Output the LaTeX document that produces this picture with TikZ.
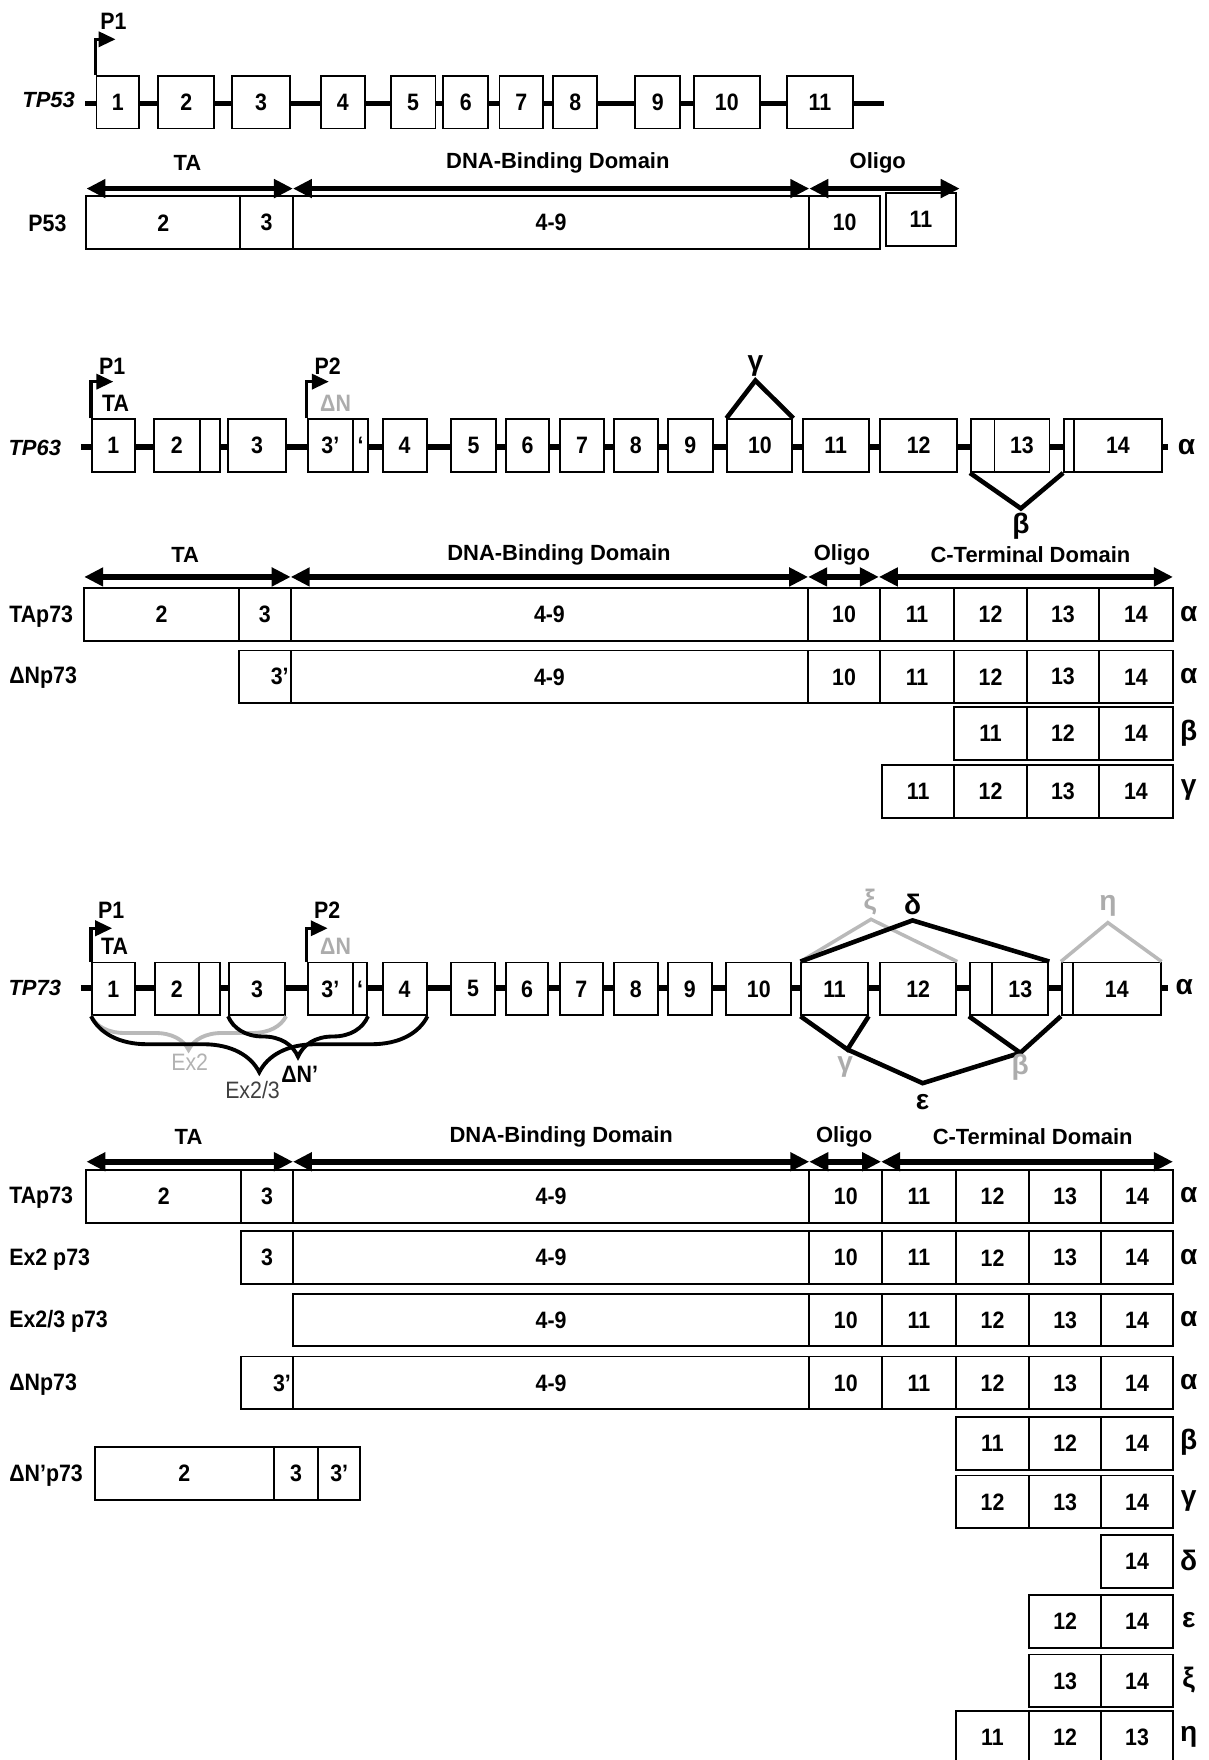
\documentclass[tikz,border=0pt]{standalone}
\usepackage{fontspec}
\setmainfont{Liberation Sans}
\newfontfamily\narrowsf{Liberation Sans}[FakeStretch=0.9]
\usetikzlibrary{arrows.meta,decorations.pathreplacing}
\newdimen\ux \ux=0.02245cm
% one row of boxes: y centre, list of name/x-left/x-right/text
\newcommand{\segrow}[2]{%
  \foreach \nm/\xa/\xb/\txt in {#2}
    \node[seg, minimum width=(\xb-\xa)*\ux] (\nm) at ({(\xa+\xb)/2},#1) {\txt};}

\begin{document}
\begin{tikzpicture}[x=0.02245cm, y=-0.02245cm,
    every node/.style={font=\narrowsf\bfseries\fontsize{13.5}{16}\selectfont, inner sep=0pt},
    seg/.style={draw, line width=1.1pt, fill=white, minimum height=47*\ux},
    gene/.style={line width=3.2pt},
    gname/.style={font=\bfseries\itshape\fontsize{12.5}{15}\selectfont},
    domlab/.style={font=\bfseries\fontsize{12.5}{15}\selectfont},
    iso/.style={font=\bfseries\fontsize{16}{18}\selectfont},
    dom/.style={{Triangle[length=0.38cm,width=0.36cm]}-{Triangle[length=0.38cm,width=0.36cm]}, line width=3.2pt},
    prom/.style={-{Triangle[length=0.34cm,width=0.3cm]}, line width=2pt},
    splice/.style={line width=2.6pt},
    ghost/.style={draw=gray!55, line width=2pt},
    brc/.style={decorate, line width=2.2pt},
    rowlab/.style={anchor=west},
    faded/.style={text=gray!65}
]
\useasboundingbox (0,0) rectangle (1077,1568);

% ---------------- TP53 ----------------
\coordinate (g53s) at (76,92);
\coordinate (g53e) at (788,92);
\draw[gene, line width=2.6pt] (g53s) -- (g53e);
\segrow{91}{s1/86/124/1, s2/141/191/2, s3/207/258/3, s4/286/325/4, s5/348/388/5, s6/395/435/6, s7/445/484/7, s8/493/532/8, s9/566/606/9, s10/618/677/10, s11/701/760/11}
\node[gname, anchor=east] (t53) at (67,89) {TP53};
\coordinate (p53) at (103,35);
\draw[prom] (s1.north west) |- (p53);
\node (p53l) at (101,19) {P1};

% P53 protein
\segrow{198.5}{q1/77/214/2, q2/214/261/3, q3/261/721/4-9, q4/721/784/10}
\node[seg, minimum width=63*\ux] (q5) at (820.5,195.5) {11};
\node[rowlab] (r53) at (25,199) {P53};
\coordinate (d0) at (77,168);
\coordinate (d1) at (261,168);
\coordinate (d2) at (721,168);
\coordinate (d3) at (855,168);
\draw[dom] (d0) -- (d1);
\draw[dom] (d1) -- (d2);
\draw[dom] (d2) -- (d3);
\node[domlab] (ta53) at (167,145) {TA};
\node[domlab] (db53) at (497,145) {DNA-Binding Domain};
\node[domlab] (ol53) at (782,145) {Oligo};

% ---------------- TP63 ----------------
\coordinate (g63s) at (72,398);
\coordinate (g63e) at (1041,398);
\draw[gene] (g63s) -- (g63e);
\segrow{397}{b1/82/120/1, b2/137/178/2, b2s/178/196/{}, b3/203/255/3, b3p/274/314.5/3’, b3s/314.5/328/‘, b4/341/380/4, b5/402/442/5, b6/451/489/6, b7/499/538/7, b8/547/586/8, b9/595/635/9, b10/648/706/10, b11/715/774/11, b12/784/853/12, b13s/865/886/{}, b13/886/935/13, b14s/948/957/{}, b14/957/1035/14}
\node[gname] (t63) at (31,399) {TP63};
\node[iso] (al63) at (1057,398) {α};
% promoters
\coordinate (p63a) at (101,340);
\coordinate (p63b) at (293,340);
\draw[prom] (b1.north west) |- (p63a);
\draw[prom] (b3p.north west) |- (p63b);
\node (p1b) at (100,326) {P1};
\node (tab) at (103,359) {TA};
\node (p2b) at (292,326) {P2};
\node[faded] (dnb) at (299,359) {ΔN};
% splicing
\coordinate (gam63) at (673,339);
\coordinate (bet63) at (909.5,453);
\draw[splice] (b10.north west) -- (gam63) -- (b10.north east);
\draw[splice] (b13s.south west) -- (bet63) -- (b14s.south west);
\node[iso] (gl63) at (673,326) {γ};
\node[iso] (bl63) at (909.5,469) {β};

% p63 proteins
\segrow{547.5}{u1/75/213/2, u2/213/259/3, u3/259/720/4-9, u4/720/784/10, u5/784/850/11, u6/850/915/12, u7/915/979/13, u8/979/1045/14}
\segrow{603}{v1/213/259/{\makebox[0.95cm][r]{3’}}, v2/259/720/4-9, v3/720/784/10, v4/784/850/11, v5/850/915/12, v6/915/979/13, v7/979/1045/14}
\segrow{653.5}{w1/850/915/11, w2/915/979/12, w3/979/1045/14}
\segrow{705}{x1/786/850/11, x2/850/915/12, x3/915/979/13, x4/979/1045/14}
\node[rowlab] (l63a) at (8,549) {TAp73};
\node[rowlab] (l63b) at (8,604) {ΔNp73};
\foreach \yy/\gr [count=\k] in {547/α, 602/α, 653/β, 704/γ}
  \node[iso] (gk\k) at (1059,\yy) {\gr};
\coordinate (h0) at (75,514);
\coordinate (h1) at (259,514);
\coordinate (h2) at (720,514);
\coordinate (h3) at (783,514);
\coordinate (h4) at (1045,514);
\draw[dom] (h0) -- (h1);
\draw[dom] (h1) -- (h2);
\draw[dom] (h2) -- (h3);
\draw[dom] (h3) -- (h4);
\node[domlab] (ta63) at (165,494) {TA};
\node[domlab] (db63) at (498,494) {DNA-Binding Domain};
\node[domlab] (ol63) at (750,494) {Oligo};
\node[domlab] (ct63) at (918,494) {C-Terminal Domain};

% ---------------- TP73 ----------------
\coordinate (g73s) at (72,880);
\coordinate (g73e) at (1041,880);
\draw[gene] (g73s) -- (g73e);
\segrow{881}{c1/82/120/1, c2/138/177/2, c2s/177/196/{}, c3/204/254/3, c3p/274/314.5/3’, c3s/314.5/327/‘, c4/341/380/4, c5/402/441/5, c6/451/488/6, c7/499/537/7, c8/547/586/8, c9/595/634/9, c10/647/705/10, c11/714/773/11, c12/784/852/12, c13s/864/884/{}, c13/884/934/13, c14s/946/956/{}, c14/956/1034/14}
\node[gname] (t73) at (31,880) {TP73};
\node[iso] (al73) at (1055,879) {α};
% promoters
\coordinate (p73a) at (100,827);
\coordinate (p73b) at (292,827);
\draw[prom] (c1.north west) |- (p73a);
\draw[prom] (c3p.north west) |- (p73b);
\node (p1c) at (99,811) {P1};
\node (tac) at (102,843) {TA};
\node (p2c) at (291.5,811) {P2};
\node[faded] (dnc) at (299,843) {ΔN};
% deletions below the gene
\draw[brc, draw=gray!55, decoration={brace, mirror, amplitude=0.67cm}] (c1.south west) -- (c3.south east);
\draw[brc, decoration={brace, mirror, amplitude=1.12cm}] (c1.south west) -- (c4.south east);
\draw[brc, decoration={brace, mirror, amplitude=0.81cm}] (c3.south west) -- (c3s.south east);
\node[font=\narrowsf\mdseries\fontsize{13.5}{16}\selectfont, text=gray!60] (lex2) at (169,946) {Ex2};
\node[font=\narrowsf\mdseries\fontsize{13.5}{16}\selectfont, text=black!75] (lex23) at (225,971) {Ex2/3};
\node (ldn) at (267,957) {ΔN’};
% splicing
\coordinate (xi73) at (776,819);
\coordinate (del73) at (813,820);
\coordinate (eta73) at (987,822);
\coordinate (gam73) at (755,935);
\coordinate (eps73) at (822,965);
\coordinate (bet73) at (909,938);
\draw[ghost] (c11.north west) -- (xi73) -- (c12.north east);
\draw[ghost] (c14s.north west) -- (eta73) -- (c14.north east);
\draw[splice] (c11.north west) -- (del73) -- (c13.north east);
\draw[splice] (c11.south west) -- (gam73) -- (c11.south east);
\draw[splice] (gam73) -- (eps73) -- (bet73);
\draw[splice] (c13s.south west) -- (bet73) -- (c14s.south west);
\node[iso, faded] (xil) at (775,804) {ξ};
\node[iso] (dell) at (813,806) {δ};
\node[iso, faded] (etal) at (987,807) {η};
\node[iso, faded] (gaml) at (753,951) {γ};
\node[iso] (epsl) at (822,982) {ε};
\node[iso, faded] (betl) at (909,951) {β};

% p73 proteins
\segrow{1066}{m1/77/215/2, m2/215/261/3, m3/261/721/4-9, m4/721/786/10, m5/786/851.5/11, m6/851.5/917/12, m7/917/981/13, m8/981/1045/14}
\segrow{1120.5}{n1/215/261/3, n2/261/721/4-9, n3/721/786/10, n4/786/851.5/11, n5/851.5/917/12, n6/917/981/13, n7/981/1045/14}
\segrow{1176}{o1/261/721/4-9, o2/721/786/10, o3/786/851.5/11, o4/851.5/917/12, o5/917/981/13, o6/981/1045/14}
\segrow{1232}{r1/215/261/{\makebox[0.95cm][r]{3’}}, r2/261/721/4-9, r3/721/786/10, r4/786/851.5/11, r5/851.5/917/12, r6/917/981/13, r7/981/1045/14}
\segrow{1286}{be1/851.5/917/11, be2/917/981/12, be3/981/1045/14}
\segrow{1338}{ga1/851.5/917/12, ga2/917/981/13, ga3/981/1045/14}
\segrow{1391}{de1/981/1045/14}
\segrow{1444.5}{ep1/917/981/12, ep2/981/1045/14}
\segrow{1497.5}{xs1/917/981/13, xs2/981/1045/14}
\segrow{1548}{et1/851.5/917/11, et2/917/981/12, et3/981/1045/13}
\segrow{1312.5}{dp1/84.5/244/2, dp2/244/283.5/3, dp3/283.5/321/3’}
\node[rowlab] (l73a) at (8,1067) {TAp73};
\node[rowlab] (l73b) at (8,1122) {Ex2 p73};
\node[rowlab] (l73c) at (8,1177) {Ex2/3 p73};
\node[rowlab] (l73d) at (8,1234) {ΔNp73};
\node[rowlab] (l73e) at (8,1315) {ΔN’p73};
\foreach \yy/\gr [count=\k] in {1065/α, 1119.5/α, 1175/α, 1231/α, 1285/β, 1337/γ, 1390/δ, 1443.5/ε, 1496.5/ξ, 1547/η}
  \node[iso] (gm\k) at (1059,\yy) {\gr};
\coordinate (k0) at (77,1035);
\coordinate (k1) at (261,1035);
\coordinate (k2) at (721,1035);
\coordinate (k3) at (785,1035);
\coordinate (k4) at (1045,1035);
\draw[dom] (k0) -- (k1);
\draw[dom] (k1) -- (k2);
\draw[dom] (k2) -- (k3);
\draw[dom] (k3) -- (k4);
\node[domlab] (ta73) at (168,1013) {TA};
\node[domlab] (db73) at (500,1013) {DNA-Binding Domain};
\node[domlab] (ol73) at (752,1013) {Oligo};
\node[domlab] (ct73) at (920,1013) {C-Terminal Domain};
\end{tikzpicture}
\end{document}
